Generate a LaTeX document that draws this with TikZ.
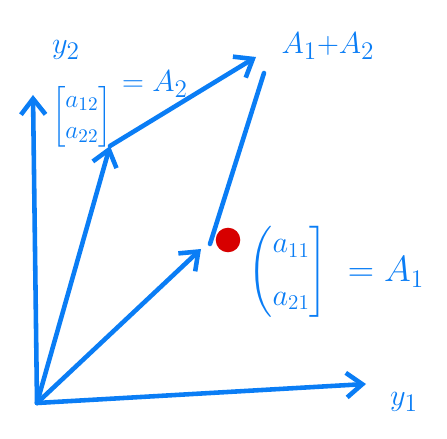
\documentclass[tikz,border=0pt]{standalone}
\usepackage{amsmath}
\usetikzlibrary{arrows.meta}
\definecolor{pen}{RGB}{10,125,245}
\definecolor{dot}{RGB}{215,0,0}
\begin{document}
\begin{tikzpicture}[x=0.02cm,y=-0.02cm,
  stroke/.style={pen,line width=2.6pt,line cap=round,line join=round},
  vec/.style={stroke,-{Straight Barb[length=9pt,width=14pt,line width=2.6pt]}},
  lab/.style={text=pen,font=\fontsize{19}{21}\selectfont,inner sep=1pt},
  mat/.style={text=pen,inner sep=0pt}]
\useasboundingbox (0,0) rectangle (447,439);
\coordinate (O) at (37,403);
\coordinate (Y2) at (33,95);
\coordinate (Y1) at (366,384);
\coordinate (A2) at (110,146);
\coordinate (S) at (256,57);
\coordinate (A1) at (201,249);
\coordinate (B) at (210,244);
\coordinate (T) at (264,73);
\draw[vec] (O) -- (Y2);
\draw[vec] (O) -- (Y1);
\draw[vec] (O) -- (A2);
\draw[vec] (O) -- (A1);
\draw[vec] (A2) -- (S);
\draw[stroke] (B) -- (T);
\node[circle,fill=dot,inner sep=0pt,minimum size=14pt] (d) at (228,240) {};
\node[lab] (ly2) at (66,50) {$y_2$};
\node[lab] (ly1) at (404,402) {$y_1$};
\node[mat,font=\fontsize{15}{17}\selectfont] (m2) at (82,117) {$\left[\begin{matrix} a_{12}\\[1pt] a_{22}\end{matrix}\right]$};
\node[lab] (e2) at (155,84) {$=A_2$};
\node[lab] (sum) at (328,46) {$A_1{+}A_2$};
\node[mat,font=\fontsize{18}{20}\selectfont] (m1) at (288,272) {$\left(\begin{matrix} a_{11}\\[10pt] a_{21}\end{matrix}\right]$};
\node[lab,font=\fontsize{21}{23}\selectfont] (e1) at (386,272) {$=A_1$};
\end{tikzpicture}
\end{document}
